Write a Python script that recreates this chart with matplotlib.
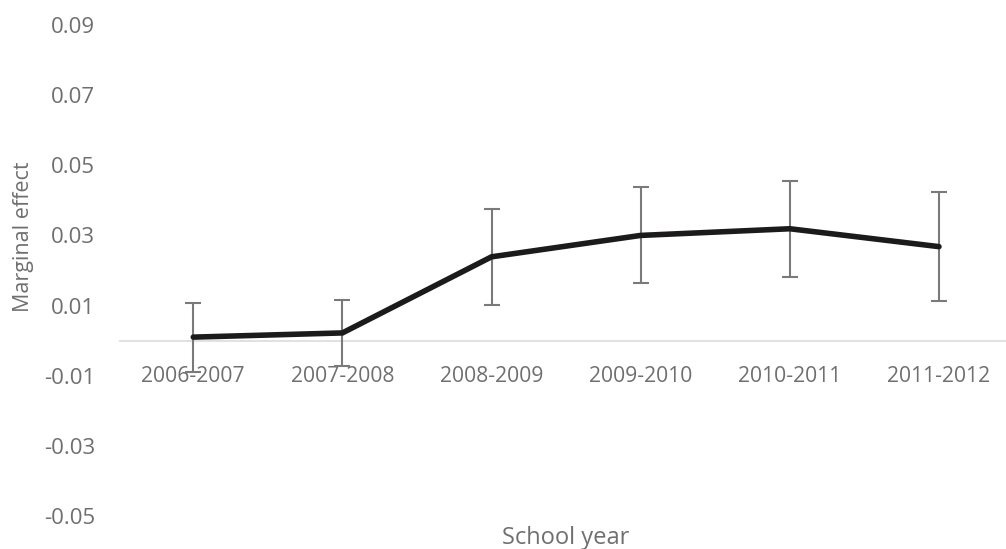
import matplotlib
matplotlib.use("Agg")
import matplotlib.pyplot as plt

plt.rcParams['font.family'] = ['Open Sans', 'DejaVu Sans']

years = ["2006-2007", "2007-2008", "2008-2009", "2009-2010", "2010-2011", "2011-2012"]
effect = [0.0010, 0.0022, 0.0239, 0.0300, 0.0319, 0.0268]
err = [0.0098, 0.0095, 0.0137, 0.0137, 0.0137, 0.0156]
yticks = [-0.05, -0.03, -0.01, 0.01, 0.03, 0.05, 0.07, 0.09]

text_grey = "#6f6f6f"

fig = plt.figure(figsize=(10.06, 5.49), dpi=100)
ax = fig.add_axes([0.118, 0.0601, 0.8895, 0.8944])

x = list(range(len(years)))
ax.errorbar(x, effect, yerr=err, fmt='none', ecolor="#7a7a7a",
            elinewidth=1.5, capsize=5.5, capthick=1.5, zorder=2)
ax.plot(x, effect, color="#1c1a1b", lw=4, solid_capstyle='round',
        solid_joinstyle='miter', zorder=3)
ax.axhline(0, color="#d9d9d9", lw=1.1, zorder=1)

ax.set_xlim(-0.5, len(years) - 0.5)
ax.set_ylim(-0.05, 0.09)
ax.set_yticks(yticks)
ax.set_yticklabels([f"{v:.2f}" for v in yticks])

# category labels hang off the zero line
ax.spines['bottom'].set_position(('data', 0))
for s in ax.spines.values():
    s.set_visible(False)
ax.set_xticks(x)
ax.set_xticklabels(years)
ax.tick_params(axis='x', length=0, pad=18, labelsize=15.2, labelcolor=text_grey)
ax.tick_params(axis='y', length=0, pad=17, labelsize=16, labelcolor=text_grey)

fig.text(24 / 1006, 1 - 237 / 549, "Marginal effect", rotation=90,
         ha='center', va='center', fontsize=15.5, color=text_grey)
fig.text(566 / 1006, 1 - 538 / 549, "School year",
         ha='center', va='center', fontsize=17, color=text_grey)

fig.savefig("out.png", dpi=100)
